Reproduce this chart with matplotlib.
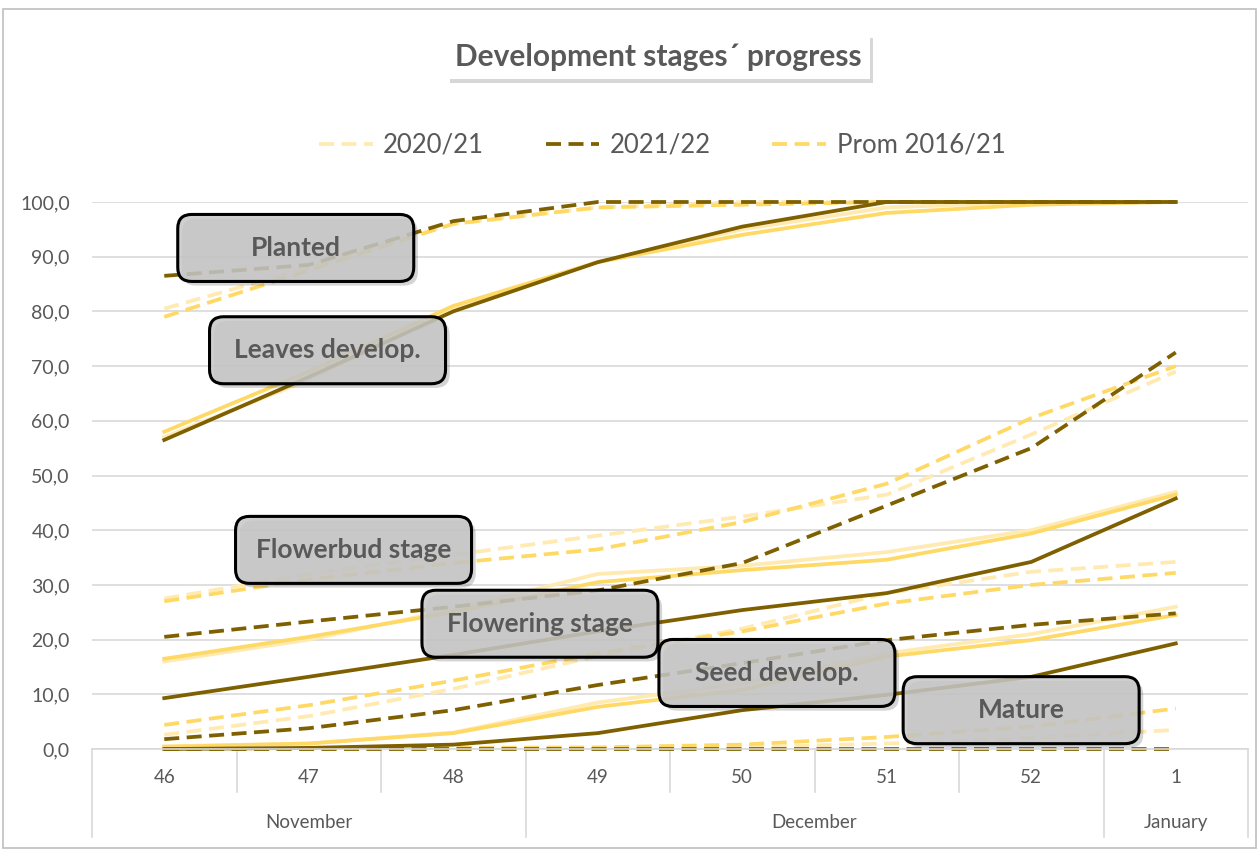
import matplotlib
matplotlib.use("Agg")
import matplotlib.pyplot as plt
import matplotlib.patheffects as pe
from matplotlib.patches import FancyBboxPatch, Rectangle
from matplotlib.ticker import FuncFormatter

plt.rcParams['font.family'] = ['Lato', 'DejaVu Sans']

# categories
weeks = ['46', '47', '48', '49', '50', '51', '52', '1']
months = ['November', 'December', 'January']
month_spans = [(0, 3), (3, 7), (7, 8)]
seasons = ['2020/21', '2021/22', 'Prom 2016/21']

# stage series (percent progress) : 2020/21, 2021/22, Prom 2016/21
planted_2021 = [80.5, 88, 96, 99, 100, 100, 100, 100]
planted_2122 = [86.5, 88.5, 96.5, 100, 100, 100, 100, 100]
planted_prom = [79, 87.5, 96, 99, 99.5, 100, 100, 100]

leaves_2021 = [57, 67.5, 80.5, 89, 95, 99, 100, 100]
leaves_2122 = [56.5, 68, 80, 89, 95.5, 100, 100, 100]
leaves_prom = [58, 69, 81, 89, 94, 98, 99.5, 100]

flowerbud_2021 = [27.5, 32, 35.5, 39, 42.5, 46.5, 57.5, 69]
flowerbud_2122 = [20.5, 23.3, 26, 29, 34, 44.5, 55, 72.5]
flowerbud_prom = [27, 31, 34, 36.5, 41.5, 48.5, 60.5, 70]

flowering_2021 = [16, 20, 25.5, 32, 33.5, 36, 40, 47]
flowering_2122 = [9.3, 13.2, 17.2, 21.5, 25.4, 28.5, 34.2, 45.8]
flowering_prom = [16.5, 20.5, 25, 30.5, 32.7, 34.6, 39.4, 46.5]

seed_2021 = [2.6, 6, 11, 17, 22, 28.5, 32.4, 34.2]
seed_2122 = [1.8, 3.8, 7.1, 11.7, 15.7, 19.9, 22.7, 24.8]
seed_prom = [4.4, 8, 12.5, 17.5, 21.5, 26.6, 30, 32.2]

mature_2021 = [0.5, 1, 3, 8.5, 12, 17.5, 21, 26]
mature_2122 = [0, 0.2, 0.8, 2.9, 7.1, 9.9, 13.2, 19.3]
mature_prom = [0.4, 1, 2.9, 7.7, 10.8, 16.9, 19.9, 24.5]

last_2021 = [0, 0, 0, 0, 0.3, 1, 2, 3.5]
last_2122 = [0, 0, 0, 0, 0, 0, 0, 0]
last_prom = [0, 0, 0.2, 0.3, 0.8, 2.2, 4.1, 7.4]

groups = [
    (planted_2021, planted_2122, planted_prom, 'dashed'),
    (leaves_2021, leaves_2122, leaves_prom, 'solid'),
    (flowerbud_2021, flowerbud_2122, flowerbud_prom, 'dashed'),
    (flowering_2021, flowering_2122, flowering_prom, 'solid'),
    (seed_2021, seed_2122, seed_prom, 'dashed'),
    (mature_2021, mature_2122, mature_prom, 'solid'),
    (last_2021, last_2122, last_prom, 'dashed'),
]

stage_labels = ['Planted', 'Leaves develop.', 'Flowerbud stage',
                'Flowering stage', 'Seed develop.', 'Mature']

LIGHT = '#FFEAB2'
DARK = '#7F6000'
PROM = '#FFD966'
TXT = '#595959'
GRID = '#D9D9D9'
DASH = (0, (4, 2))

fig = plt.figure(figsize=(12.58, 8.5), dpi=100)
ax = fig.add_axes([92 / 1258, 1 - 749 / 850, 1156 / 1258, 547 / 850])

x = list(range(len(weeks)))
for s20, s21, sp, style in groups:
    ls = DASH if style == 'dashed' else '-'
    ax.plot(x, s20, color=LIGHT, lw=2.7, ls=ls, clip_on=False, zorder=2)
    ax.plot(x, sp, color=PROM, lw=2.7, ls=ls, clip_on=False, zorder=2.1)
    ax.plot(x, s21, color=DARK, lw=2.7, ls=ls, clip_on=False, zorder=2.2)

ax.set_xlim(-0.5, len(weeks) - 0.5)
ax.set_ylim(0, 100)
ax.set_yticks(range(0, 101, 10))
ax.yaxis.set_major_formatter(FuncFormatter(lambda v, p: f'{v:.1f}'.replace('.', ',')))
ax.tick_params(axis='y', length=0, pad=16, labelsize=14, labelcolor=TXT)
ax.set_xticks([])
ax.grid(axis='y', color=GRID, lw=1.2)
ax.set_axisbelow(True)
for side in ['top', 'right', 'left']:
    ax.spines[side].set_visible(False)
ax.spines['bottom'].set_color(GRID)
ax.spines['bottom'].set_linewidth(1.2)

# multi-level category axis
xt = ax.get_xaxis_transform()
for i, w in enumerate(weeks):
    ax.text(i, -0.053, w, transform=xt, ha='center', va='center',
            fontsize=13.5, color=TXT)
boundaries = {s for s, e in month_spans} | {e for s, e in month_spans}
for b in range(len(weeks) + 1):
    y0 = -0.161 if b in boundaries else -0.0786
    ax.plot([b - 0.5, b - 0.5], [0, y0], transform=xt, color=GRID,
            lw=1.2, clip_on=False)
for m, (s, e) in zip(months, month_spans):
    ax.text((s + e - 1) / 2, -0.1335, m, transform=xt, ha='center',
            va='center', fontsize=13.5, color=TXT)

# stage label boxes
box_pos = [(0.91, 91.6), (1.13, 72.9), (1.31, 36.4),
           (2.6, 22.9), (4.24, 13.9), (5.93, 7.1)]
bw, bh = 236 / 144.5, 67 / 5.47
rx = 14 / 144.5
asp = (1 / 5.47) / (1 / 144.5)
for lab, (cx, cy) in zip(stage_labels, box_pos):
    box = FancyBboxPatch((cx - bw / 2, cy - bh / 2), bw, bh,
                         boxstyle=f'round,pad=0,rounding_size={rx}',
                         mutation_aspect=asp, fc=(0.78, 0.78, 0.78, 0.85),
                         ec='black', lw=2.2, zorder=5, clip_on=False)
    box.set_path_effects([pe.SimplePatchShadow(offset=(3, -3), alpha=0.22),
                          pe.Normal()])
    ax.add_patch(box)
    ax.text(cx, cy, lab, ha='center', va='center', fontsize=19,
            fontweight='bold', color=TXT, zorder=6)

# title
t = fig.text(658 / 1258, 1 - 57 / 850, 'Development stages\u00b4 progress',
             ha='center', va='center', fontsize=21.5, fontweight='bold',
             color=TXT,
             bbox=dict(boxstyle='square,pad=0.28', fc='white', ec='none'))
t.get_bbox_patch().set_path_effects([pe.SimplePatchShadow(offset=(2.5, -2.5), alpha=0.22),
                                     pe.Normal()])

# legend
handles = [plt.Line2D([], [], color=c, lw=2.7, ls=DASH) for c in (LIGHT, DARK, PROM)]
leg = fig.legend(handles, seasons, loc='center', ncol=3,
                 bbox_to_anchor=(662 / 1258, 1 - 145 / 850), frameon=False,
                 fontsize=18.5, handlelength=2.1, handletextpad=0.4,
                 columnspacing=2.4)
for txt in leg.get_texts():
    txt.set_color(TXT)

# outer chart border
fig.add_artist(Rectangle((3 / 1258, 2 / 850), 1253 / 1258, 839 / 850,
                         transform=fig.transFigure, fill=False,
                         ec='#BFBFBF', lw=1.2))

fig.savefig('out.png', dpi=100)
